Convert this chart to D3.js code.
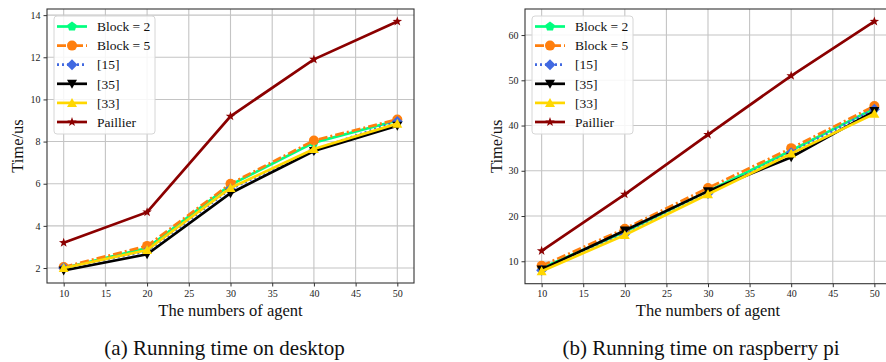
<!DOCTYPE html>
<html lang="en">
<head>
<meta charset="UTF-8">
<title>Running time</title>
<script src="https://d3js.org/d3.v7.min.js"></script>
<style>
  body { margin: 0; background: #fff; }
  svg { display: block; font-family: "Liberation Serif", "Times New Roman", serif; }
</style>
</head>
<body>
<script>
    // x values shared by both panels
    var agents = [10, 20, 30, 40, 50];
    var xTicks = [10, 15, 20, 25, 30, 35, 40, 45, 50];

    var seriesNames = ["Block = 2", "Block = 5", "[15]", "[35]", "[33]", "Paillier"];

    // (a) desktop, time in us
    var desktopBlock2   = [2.0, 2.95, 5.95, 7.95, 9.0];
    var desktopBlock5   = [2.05, 3.05, 6.0, 8.05, 9.05];
    var desktopRef15    = [2.0, 2.8, 5.75, 7.6, 8.95];
    var desktopRef35    = [1.88, 2.65, 5.55, 7.55, 8.75];
    var desktopRef33    = [2.0, 2.85, 5.8, 7.65, 8.85];
    var desktopPaillier = [3.2, 4.65, 9.2, 11.9, 13.7];
    var desktopYTicks   = [2, 4, 6, 8, 10, 12, 14];

    // (b) raspberry pi, time in us
    var piBlock2   = [8.5, 16.5, 25.5, 34.5, 43.8];
    var piBlock5   = [9.0, 17.2, 26.2, 35.0, 44.3];
    var piRef15    = [8.0, 16.0, 25.0, 34.0, 43.6];
    var piRef35    = [8.2, 16.8, 25.5, 33.0, 43.2];
    var piRef33    = [7.8, 15.8, 24.8, 33.8, 42.6];
    var piPaillier = [12.3, 24.8, 38.0, 51.0, 63.0];
    var piYTicks   = [10, 20, 30, 40, 50, 60];

    // style for each series (matplotlib-like)
    var styles = [
        {color: "#00ff7f", dash: null,        marker: "pentagon", size: 10},
        {color: "#ff7f0e", dash: "9,3,2,3",   marker: "circle",   size: 10},
        {color: "#4169e1", dash: "2,3",       marker: "diamond",  size: 11},
        {color: "#000000", dash: null,        marker: "tridown",  size: 10},
        {color: "#ffd700", dash: null,        marker: "triup",    size: 10},
        {color: "#8b0000", dash: null,        marker: "star",     size: 10}
    ];

    function markerPath(type, s) {
        var r = s / 2, pts = [], i, a;
        if (type === "circle") {
            return d3.symbol().type(d3.symbolCircle).size(Math.PI * r * r)();
        }
        if (type === "pentagon") {
            for (i = 0; i < 5; i++) {
                a = -Math.PI / 2 + i * 2 * Math.PI / 5;
                pts.push([r * Math.cos(a), r * Math.sin(a)]);
            }
        } else if (type === "diamond") {
            pts = [[0, -r], [r, 0], [0, r], [-r, 0]];
        } else if (type === "triup") {
            pts = [[0, -r], [r, r * 0.8], [-r, r * 0.8]];
        } else if (type === "tridown") {
            pts = [[0, r], [r, -r * 0.8], [-r, -r * 0.8]];
        } else if (type === "star") {
            for (i = 0; i < 10; i++) {
                a = -Math.PI / 2 + i * Math.PI / 5;
                var rr = i % 2 === 0 ? r : r * 0.4;
                pts.push([rr * Math.cos(a), rr * Math.sin(a)]);
            }
        }
        return "M" + pts.map(function(p) { return p[0].toFixed(2) + "," + p[1].toFixed(2); }).join("L") + "Z";
    }

    var svg = d3.select("body").append("svg")
        .attr("width", 886)
        .attr("height", 362);

    function drawPanel(cfg) {
        var allVals = d3.merge(cfg.series);
        var lo = d3.min(allVals), hi = d3.max(allVals), pad = (hi - lo) * 0.05;

        var x = d3.scaleLinear().domain([8, 52]).range([cfg.left, cfg.right]);
        var y = d3.scaleLinear().domain([lo - pad, hi + pad]).range([cfg.bottom, cfg.top]);

        var g = svg.append("g");

        // grid
        g.append("g").selectAll("line").data(xTicks).enter().append("line")
            .attr("x1", function(d) { return x(d); }).attr("x2", function(d) { return x(d); })
            .attr("y1", cfg.top).attr("y2", cfg.bottom)
            .attr("stroke", "#c4c4c4").attr("stroke-width", 1.1);
        g.append("g").selectAll("line").data(cfg.yTicks).enter().append("line")
            .attr("x1", cfg.left).attr("x2", cfg.right)
            .attr("y1", function(d) { return y(d); }).attr("y2", function(d) { return y(d); })
            .attr("stroke", "#c4c4c4").attr("stroke-width", 1.1);

        // axes
        var xAxis = g.append("g")
            .attr("transform", "translate(0," + cfg.bottom + ")")
            .call(d3.axisBottom(x).tickValues(xTicks).tickSize(3.5).tickPadding(3));
        var yAxis = g.append("g")
            .attr("transform", "translate(" + cfg.left + ",0)")
            .call(d3.axisLeft(y).tickValues(cfg.yTicks).tickSize(3.5).tickPadding(3));
        [xAxis, yAxis].forEach(function(ax) {
            ax.select(".domain").remove();
            ax.selectAll("text").style("font-family", "Liberation Serif, serif").style("font-size", "10px").attr("fill", "#222");
            ax.selectAll("line").attr("stroke", "#333");
        });

        // lines and markers
        var line = d3.line()
            .x(function(d, i) { return x(agents[i]); })
            .y(function(d) { return y(d); });

        var plot = g.append("g");
        cfg.series.forEach(function(vals, k) {
            var st = styles[k];
            plot.append("path")
                .datum(vals)
                .attr("d", line)
                .attr("fill", "none")
                .attr("stroke", st.color)
                .attr("stroke-width", 2.7)
                .attr("stroke-dasharray", st.dash);
            plot.selectAll(null).data(vals).enter().append("path")
                .attr("d", markerPath(st.marker, st.size))
                .attr("transform", function(d, i) { return "translate(" + x(agents[i]) + "," + y(d) + ")"; })
                .attr("fill", st.color);
        });

        // frame
        g.append("rect")
            .attr("x", cfg.left).attr("y", cfg.top)
            .attr("width", cfg.right - cfg.left).attr("height", cfg.bottom - cfg.top)
            .attr("fill", "none").attr("stroke", "#333").attr("stroke-width", 1.1);

        // legend
        var lg = g.append("g").attr("transform", "translate(" + (cfg.left + 7) + "," + (cfg.top + 7) + ")");
        lg.append("rect")
            .attr("width", 101).attr("height", 118).attr("rx", 3)
            .attr("fill", "#fff").attr("fill-opacity", 0.85)
            .attr("stroke", "#d6d6d6");
        seriesNames.forEach(function(name, k) {
            var st = styles[k], yy = 10.5 + k * 19.1;
            lg.append("line")
                .attr("x1", 3).attr("x2", 33).attr("y1", yy).attr("y2", yy)
                .attr("stroke", st.color).attr("stroke-width", 2.7)
                .attr("stroke-dasharray", st.dash);
            lg.append("path")
                .attr("d", markerPath(st.marker, st.size))
                .attr("transform", "translate(18," + yy + ")")
                .attr("fill", st.color);
            lg.append("text")
                .attr("x", 43).attr("y", yy).attr("dy", "0.35em")
                .style("font-size", "13.5px").attr("fill", "#111")
                .text(name);
        });

        // axis labels
        g.append("text")
            .attr("transform", "translate(" + cfg.yLabelX + "," + ((cfg.top + cfg.bottom) / 2) + ") rotate(-90)")
            .attr("text-anchor", "middle").attr("dy", "0.35em")
            .style("font-size", "16.5px").attr("fill", "#111")
            .text("Time/us");
        g.append("text")
            .attr("x", x(30)).attr("y", 316)
            .attr("text-anchor", "middle")
            .style("font-size", "16.5px").attr("fill", "#111")
            .text("The numbers of agent");

        // caption
        g.append("text")
            .attr("x", cfg.captionX).attr("y", 355)
            .attr("text-anchor", "middle")
            .style("font-size", "21px").attr("fill", "#111")
            .text(cfg.caption);
    }

    drawPanel({
        left: 47, right: 414, top: 9, bottom: 283,
        series: [desktopBlock2, desktopBlock5, desktopRef15, desktopRef35, desktopRef33, desktopPaillier],
        yTicks: desktopYTicks, yLabelX: 17,
        caption: "(a) Running time on desktop", captionX: 224.5
    });
    drawPanel({
        left: 525, right: 891, top: 9, bottom: 283.7,
        series: [piBlock2, piBlock5, piRef15, piRef35, piRef33, piPaillier],
        yTicks: piYTicks, yLabelX: 496,
        caption: "(b) Running time on raspberry pi", captionX: 701
    });
</script>
</body>
</html>
